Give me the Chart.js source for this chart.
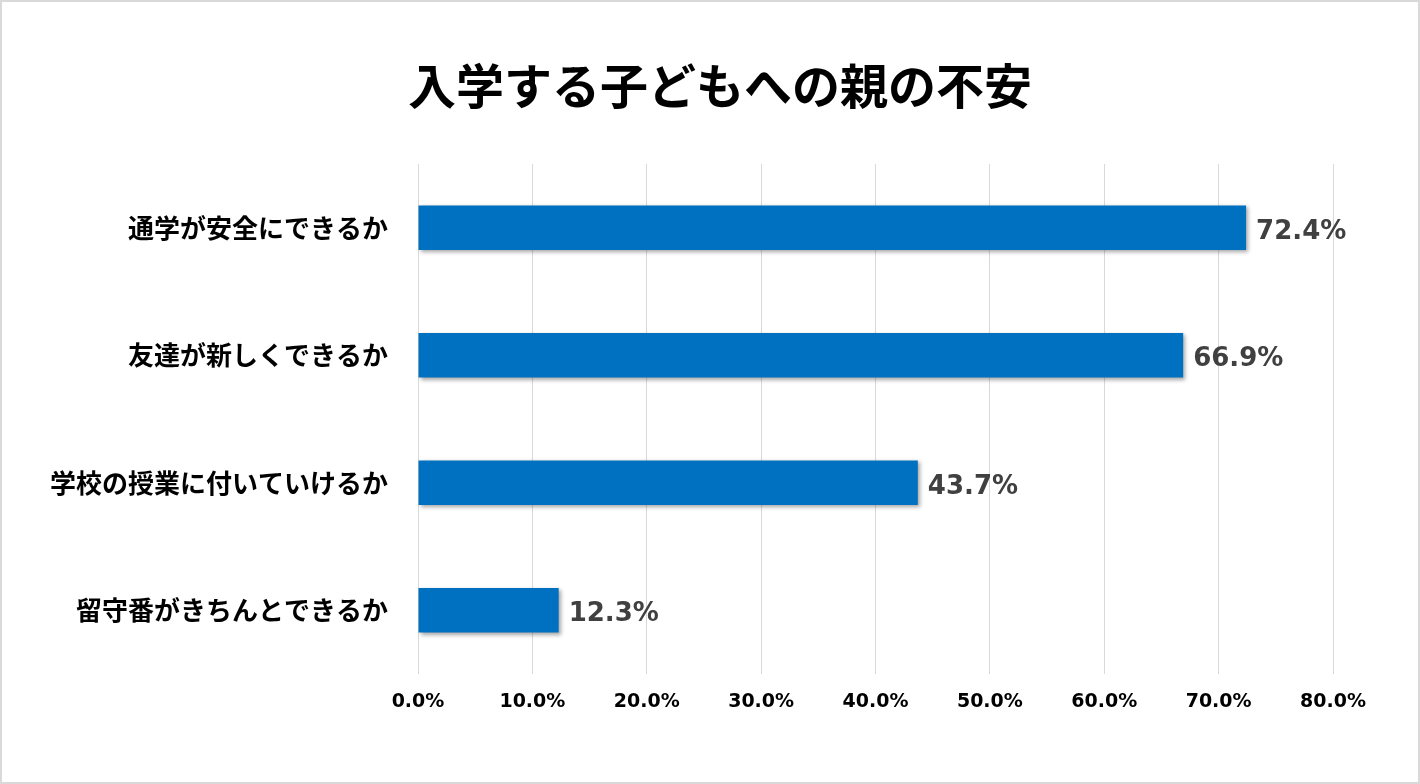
<!DOCTYPE html>
<html>
<head>
<meta charset="utf-8">
<script src="https://cdn.jsdelivr.net/npm/chart.js@4"></script>
<style>
  html, body { margin: 0; padding: 0; background: #fff; }
  #wrap { width: 1420px; height: 784px; box-sizing: border-box; border: 2px solid #d9d9d9; position: relative; }
</style>
</head>
<body>
<div id="wrap"><canvas id="c"></canvas></div>
<script>
/* 入学する子どもへの親の不安 — 横棒グラフ */
const chartTitle = '入学する子どもへの親の不安';
const categories = ['通学が安全にできるか', '友達が新しくできるか', '学校の授業に付いていけるか', '留守番がきちんとできるか'];
const values = [72.4, 66.9, 43.7, 12.3];
const axisMax = 80;
const axisStep = 10;

const jpFont = '"Noto Sans CJK JP", "Noto Sans", sans-serif';
const numFont = '"DejaVu Sans", Verdana, sans-serif';

// sombra suave en las barras
const barShadow = {
  id: 'barShadow',
  beforeDatasetsDraw(chart) {
    const ctx = chart.ctx;
    ctx.save();
    ctx.shadowColor = 'rgba(0,0,0,0.35)';
    ctx.shadowBlur = 4;
    ctx.shadowOffsetX = 2;
    ctx.shadowOffsetY = 2;
  },
  afterDatasetsDraw(chart) {
    chart.ctx.restore();
  }
};

// título centrado sobre todo el lienzo (el de Chart.js se corre por el padding derecho)
const centeredTitle = {
  id: 'centeredTitle',
  afterDraw(chart) {
    const ctx = chart.ctx;
    ctx.save();
    ctx.font = 'bold 48px ' + jpFont;
    ctx.fillStyle = '#000';
    ctx.textAlign = 'center';
    ctx.textBaseline = 'middle';
    ctx.fillText(chartTitle, chart.width / 2 + 10, 84);
    ctx.restore();
  }
};

// etiquetas de valor al final de cada barra
const valueLabels = {
  id: 'valueLabels',
  afterDraw(chart) {
    const ctx = chart.ctx;
    const meta = chart.getDatasetMeta(0);
    ctx.save();
    ctx.font = 'bold 26px ' + numFont;
    ctx.fillStyle = '#404040';
    ctx.textAlign = 'left';
    ctx.textBaseline = 'middle';
    meta.data.forEach((bar, i) => {
      ctx.fillText(values[i].toFixed(1) + '%', bar.x + 10, bar.y + 4);
    });
    ctx.restore();
  }
};

new Chart(document.getElementById('c'), {
  type: 'bar',
  data: {
    labels: categories,
    datasets: [{
      data: values,
      backgroundColor: '#0070c0',
      borderWidth: 0,
      barPercentage: 0.35,
      categoryPercentage: 1.0
    }]
  },
  options: {
    indexAxis: 'y',
    responsive: true,
    maintainAspectRatio: false,
    animation: false,
    layout: { padding: { left: 0, right: 85, top: 162, bottom: 0 } },
    scales: {
      x: {
        min: 0,
        max: axisMax,
        ticks: {
          stepSize: axisStep,
          padding: 17,
          color: '#000',
          font: { family: numFont, size: 19, weight: 'bold' },
          callback: v => v.toFixed(1) + '%'
        },
        grid: { color: '#d9d9d9', lineWidth: 1, drawTicks: false },
        border: { display: false },
        afterFit(scale) { scale.height = 108; }
      },
      y: {
        ticks: {
          padding: 30,
          color: '#000',
          font: { family: jpFont, size: 26, weight: 'bold' }
        },
        grid: { display: false, drawTicks: false },
        border: { display: false },
        afterFit(scale) { scale.width = 416; }
      }
    },
    plugins: {
      legend: { display: false },
      tooltip: { enabled: false },
      title: { display: false }
    }
  },
  plugins: [barShadow, centeredTitle, valueLabels]
});
</script>
</body>
</html>
